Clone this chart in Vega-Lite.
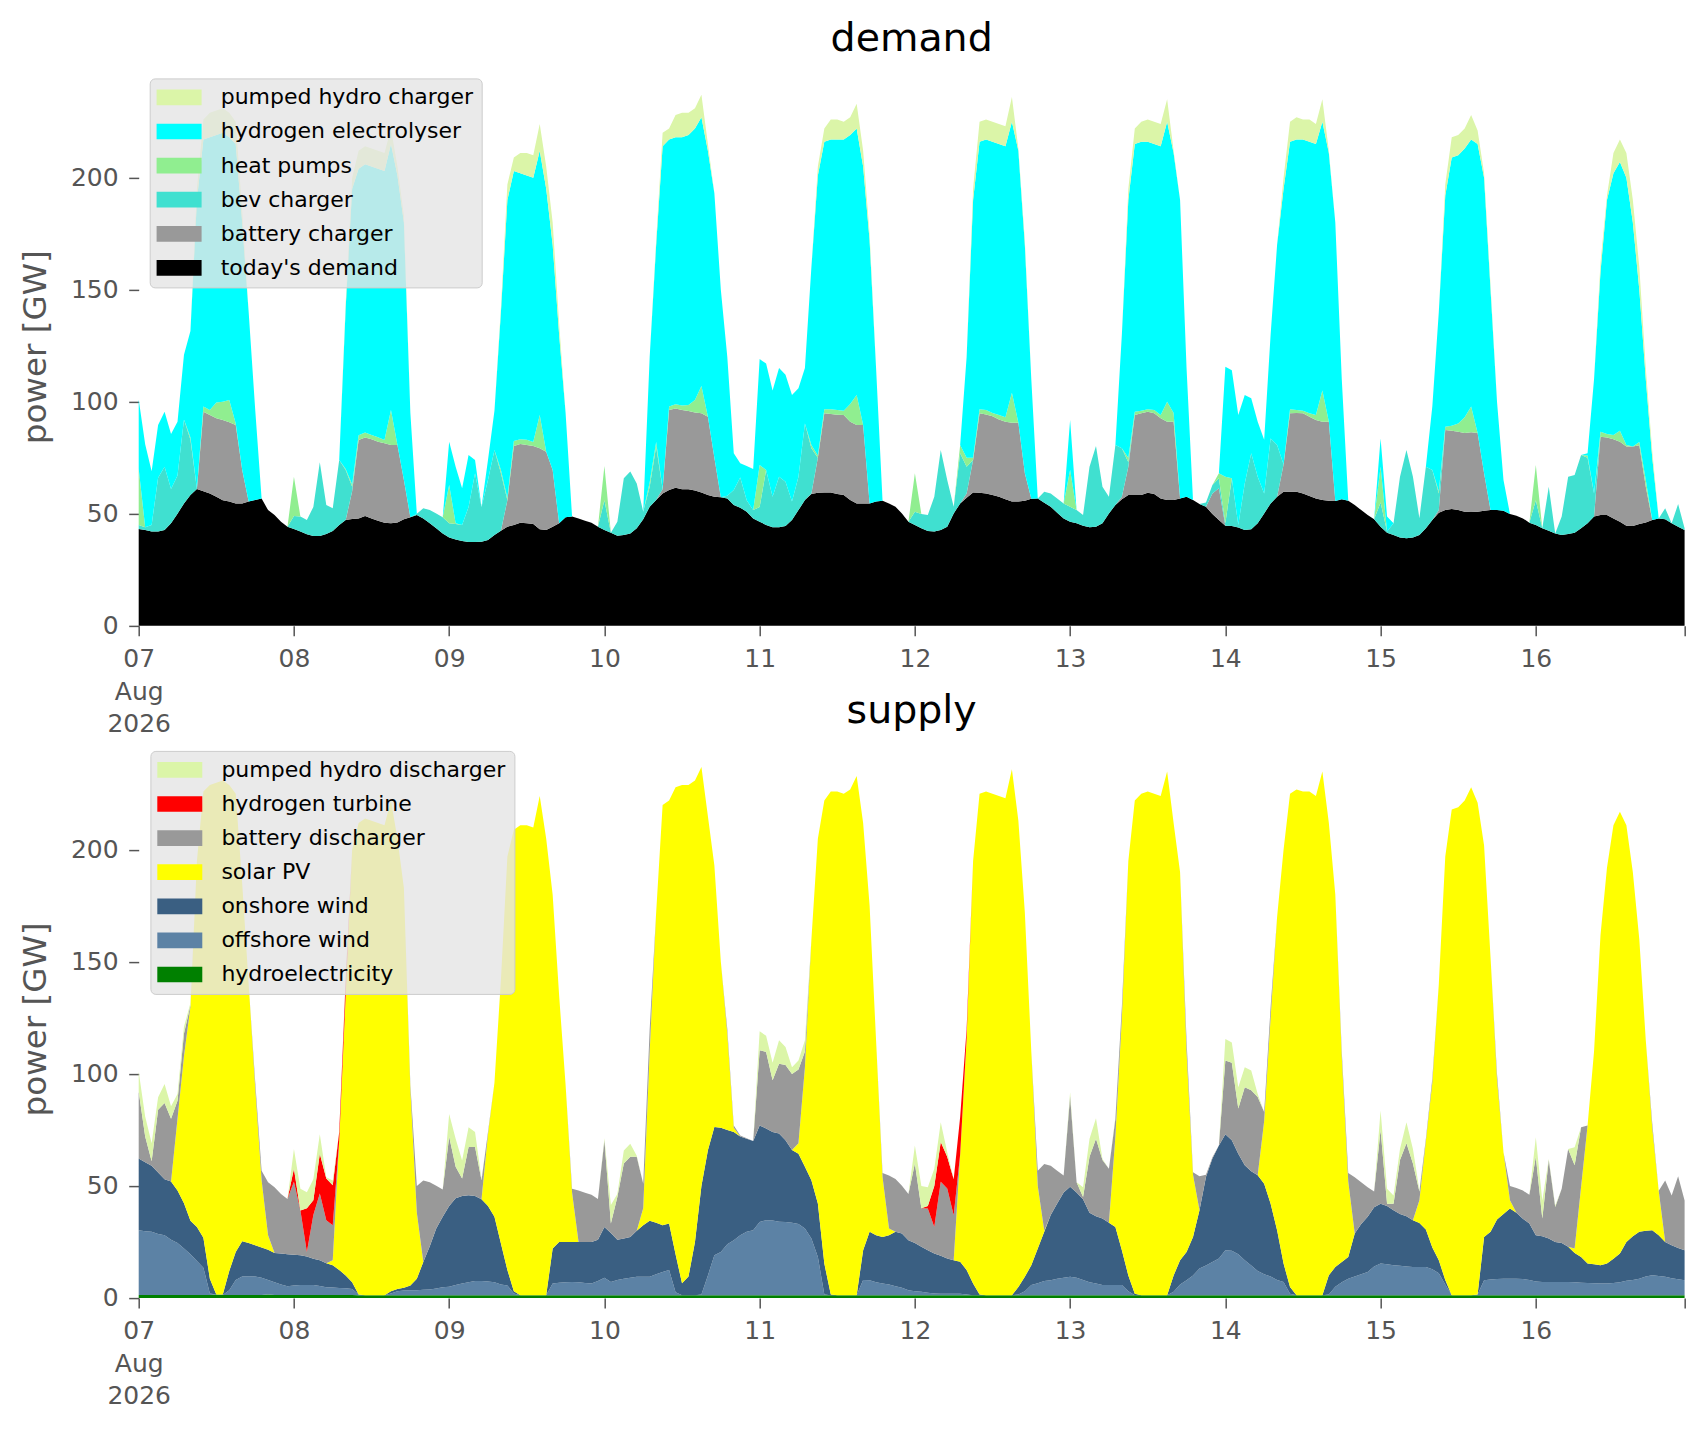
{
"$schema":"https://vega.github.io/schema/vega-lite/v6.json",
"background":"white",
"padding":{"left":18.7,"top":18.9,"right":10,"bottom":10},
"bounds":"flush",
"spacing":114.2,
"config":{
"font":"DejaVu Sans",
"view":{"stroke":null},
"axis":{"domain":false,"grid":false,"tickColor":"#555555","tickWidth":1.5,"tickSize":10,"labelColor":"#555555","labelFontSize":25,"labelFont":"DejaVu Sans","titleColor":"#555555","titleFontSize":32.6,"titleFont":"DejaVu Sans","titleFontWeight":"normal"},
"axisX":{"labelPadding":11,"labelFlush":false,"labelOverlap":false,"labelLineHeight":32.5},
"axisY":{"labelPadding":10.6,"titlePadding":18},
"title":{"fontSize":39.5,"fontWeight":"normal","color":"black","font":"DejaVu Sans","anchor":"middle","baseline":"alphabetic"},
"legend":{"orient":"none","fillColor":"rgba(229,229,229,0.8)","strokeColor":"#cccccc","strokeWidth":1,"cornerRadius":5,"padding":8,"labelFontSize":22,"labelFont":"DejaVu Sans","labelColor":"black","symbolType":"M-1.1,-0.714H2.99V0.714H-1.1Z","symbolSize":484,"symbolStrokeWidth":0,"symbolOpacity":1,"rowPadding":12.1,"labelOffset":41,"labelLimit":0}
},
"datasets":{
"dem":[
{"t":0,"d1":43.2,"d2":0,"d3":1.8,"d4":25,"d5":31,"d6":0},
{"t":1,"d1":42.7,"d2":0,"d3":1.3,"d4":0,"d5":37,"d6":0},
{"t":2,"d1":42,"d2":0,"d3":3,"d4":0,"d5":24,"d6":0},
{"t":3,"d1":42,"d2":0,"d3":24,"d4":0,"d5":23.6,"d6":0},
{"t":4,"d1":42.7,"d2":0,"d3":28.3,"d4":0,"d5":24.5,"d6":0},
{"t":5,"d1":45.7,"d2":0,"d3":15.3,"d4":0,"d5":24.6,"d6":0},
{"t":6,"d1":50,"d2":0,"d3":17,"d4":0,"d5":24,"d6":0},
{"t":7,"d1":54.6,"d2":0,"d3":37.4,"d4":0,"d5":29,"d6":0},
{"t":8,"d1":58.3,"d2":0,"d3":24.7,"d4":1,"d5":47.6,"d6":0},
{"t":9,"d1":61,"d2":0,"d3":0,"d4":0,"d5":129,"d6":5},
{"t":10,"d1":60,"d2":35.5,"d3":0,"d4":2.3,"d5":119.2,"d6":9},
{"t":11,"d1":59,"d2":35,"d3":0,"d4":2.3,"d5":121.7,"d6":11},
{"t":12,"d1":57.6,"d2":35,"d3":0,"d4":7,"d5":119.4,"d6":11},
{"t":13,"d1":56,"d2":35.8,"d3":0,"d4":8.2,"d5":120,"d6":11},
{"t":14,"d1":55.4,"d2":35.4,"d3":0,"d4":9.9,"d5":117.3,"d6":11},
{"t":15,"d1":54.6,"d2":35,"d3":0,"d4":0.7,"d5":124.7,"d6":10},
{"t":16,"d1":54.6,"d2":14.9,"d3":0,"d4":0,"d5":110.5,"d6":5},
{"t":17,"d1":55.4,"d2":0,"d3":0,"d4":0,"d5":84.6,"d6":0},
{"t":18,"d1":56.1,"d2":0,"d3":0,"d4":0,"d5":40.9,"d6":0},
{"t":19,"d1":56.8,"d2":0,"d3":0,"d4":0,"d5":0,"d6":0},
{"t":20,"d1":51.6,"d2":0,"d3":0,"d4":0,"d5":0,"d6":0},
{"t":21,"d1":49.4,"d2":0,"d3":0,"d4":0,"d5":0,"d6":0},
{"t":22,"d1":46.4,"d2":0,"d3":0,"d4":0,"d5":0,"d6":0},
{"t":23,"d1":44.2,"d2":0,"d3":0,"d4":0,"d5":0,"d6":0},
{"t":24,"d1":43.2,"d2":0,"d3":5.8,"d4":17.5,"d5":0,"d6":0},
{"t":25,"d1":42,"d2":0,"d3":6.7,"d4":0,"d5":0,"d6":0},
{"t":26,"d1":40.8,"d2":0,"d3":6.4,"d4":0,"d5":0,"d6":0},
{"t":27,"d1":40,"d2":0,"d3":13,"d4":0,"d5":0,"d6":0},
{"t":28,"d1":40,"d2":0,"d3":33,"d4":0,"d5":0,"d6":0},
{"t":29,"d1":40.9,"d2":0,"d3":13,"d4":0,"d5":0,"d6":0},
{"t":30,"d1":42.3,"d2":0,"d3":10.1,"d4":0,"d5":0,"d6":0},
{"t":31,"d1":45,"d2":0,"d3":29,"d4":0,"d5":0,"d6":0},
{"t":32,"d1":47.2,"d2":0,"d3":22.3,"d4":0.5,"d5":72,"d6":2},
{"t":33,"d1":47.6,"d2":12.4,"d3":2,"d4":1,"d5":132,"d6":5},
{"t":34,"d1":47.9,"d2":35,"d3":0,"d4":2.1,"d5":119,"d6":8},
{"t":35,"d1":49,"d2":35,"d3":0,"d4":2.2,"d5":119.8,"d6":8},
{"t":36,"d1":47.9,"d2":35.3,"d3":0,"d4":1.9,"d5":119.9,"d6":8},
{"t":37,"d1":46.9,"d2":35.2,"d3":0,"d4":2,"d5":119.9,"d6":8},
{"t":38,"d1":46,"d2":35.4,"d3":0,"d4":1.5,"d5":120.1,"d6":8},
{"t":39,"d1":45.7,"d2":35,"d3":0,"d4":15.6,"d5":118.7,"d6":7},
{"t":40,"d1":46.1,"d2":34.6,"d3":0,"d4":0,"d5":120.3,"d6":4},
{"t":41,"d1":47.5,"d2":17.5,"d3":0,"d4":0,"d5":115,"d6":3},
{"t":42,"d1":48.4,"d2":0,"d3":0,"d4":0,"d5":46.6,"d6":0},
{"t":43,"d1":49.4,"d2":0,"d3":0.6,"d4":0,"d5":0,"d6":0},
{"t":44,"d1":47.9,"d2":0,"d3":4.5,"d4":0,"d5":0,"d6":0},
{"t":45,"d1":45.7,"d2":0,"d3":5.9,"d4":0,"d5":0,"d6":0},
{"t":46,"d1":43.5,"d2":0,"d3":6.6,"d4":0,"d5":0,"d6":0},
{"t":47,"d1":41.2,"d2":0,"d3":7.2,"d4":0,"d5":0,"d6":0},
{"t":48,"d1":39.4,"d2":0,"d3":6.3,"d4":17.1,"d5":19.3,"d6":0},
{"t":49,"d1":38.5,"d2":0,"d3":6.9,"d4":0.3,"d5":25.3,"d6":0},
{"t":50,"d1":37.8,"d2":0,"d3":7.2,"d4":0,"d5":16.3,"d6":0},
{"t":51,"d1":37.4,"d2":0,"d3":15.6,"d4":0,"d5":23.2,"d6":0},
{"t":52,"d1":37.4,"d2":0,"d3":30.6,"d4":0,"d5":6,"d6":0},
{"t":53,"d1":37.5,"d2":0,"d3":15.5,"d4":0,"d5":0,"d6":0},
{"t":54,"d1":38.2,"d2":0,"d3":26.8,"d4":0,"d5":9,"d6":0},
{"t":55,"d1":40.5,"d2":0,"d3":37.9,"d4":0,"d5":17.6,"d6":0},
{"t":56,"d1":42.4,"d2":0,"d3":25.6,"d4":1.5,"d5":70.5,"d6":2},
{"t":57,"d1":44.2,"d2":11.8,"d3":0,"d4":1,"d5":133,"d6":7},
{"t":58,"d1":45,"d2":35.2,"d3":0,"d4":2.2,"d5":120.6,"d6":6},
{"t":59,"d1":46,"d2":35.1,"d3":0,"d4":2.1,"d5":118.8,"d6":9},
{"t":60,"d1":45.7,"d2":35,"d3":0,"d4":2.3,"d5":118,"d6":10},
{"t":61,"d1":45.4,"d2":34.8,"d3":0,"d4":1.8,"d5":118,"d6":10},
{"t":62,"d1":43,"d2":36.2,"d3":0,"d4":14.8,"d5":118,"d6":12},
{"t":63,"d1":42.7,"d2":35,"d3":0,"d4":0,"d5":117.3,"d6":10},
{"t":64,"d1":44.2,"d2":25.3,"d3":0,"d4":0,"d5":100.5,"d6":10},
{"t":65,"d1":45.7,"d2":0,"d3":0,"d4":0,"d5":84.3,"d6":5},
{"t":66,"d1":48.4,"d2":0,"d3":0,"d4":0,"d5":46.6,"d6":0},
{"t":67,"d1":48.7,"d2":0,"d3":0,"d4":0,"d5":0,"d6":0},
{"t":68,"d1":47.9,"d2":0,"d3":0,"d4":0,"d5":0,"d6":0},
{"t":69,"d1":46.9,"d2":0,"d3":0,"d4":0,"d5":0,"d6":0},
{"t":70,"d1":46,"d2":0,"d3":0,"d4":0,"d5":0,"d6":0},
{"t":71,"d1":44.2,"d2":0,"d3":0,"d4":0,"d5":0,"d6":0},
{"t":72,"d1":42.7,"d2":0,"d3":13.3,"d4":15.3,"d5":0,"d6":0},
{"t":73,"d1":41.5,"d2":0,"d3":0,"d4":0,"d5":0,"d6":0},
{"t":74,"d1":40.2,"d2":0,"d3":6.2,"d4":0,"d5":0,"d6":0},
{"t":75,"d1":40.5,"d2":0,"d3":25.3,"d4":0,"d5":0,"d6":0},
{"t":76,"d1":41.2,"d2":0,"d3":27.6,"d4":0,"d5":0,"d6":0},
{"t":77,"d1":43.5,"d2":0,"d3":20,"d4":0,"d5":0,"d6":0},
{"t":78,"d1":47.5,"d2":0,"d3":3.4,"d4":0,"d5":0,"d6":0},
{"t":79,"d1":53.1,"d2":0,"d3":8.9,"d4":2,"d5":56,"d6":0},
{"t":80,"d1":56.1,"d2":0,"d3":23.9,"d4":2,"d5":88,"d6":2},
{"t":81,"d1":59,"d2":2,"d3":0,"d4":0,"d5":153,"d6":6},
{"t":82,"d1":60.6,"d2":35.7,"d3":0,"d4":1.5,"d5":119.2,"d6":5},
{"t":83,"d1":61.6,"d2":35.4,"d3":0,"d4":1.8,"d5":119.2,"d6":10},
{"t":84,"d1":60.9,"d2":35.4,"d3":0,"d4":2,"d5":119.7,"d6":11},
{"t":85,"d1":60.9,"d2":34.9,"d3":0,"d4":2.7,"d5":120.5,"d6":10},
{"t":86,"d1":60.3,"d2":34.9,"d3":0,"d4":5.5,"d5":121.3,"d6":9},
{"t":87,"d1":59.5,"d2":35.3,"d3":0,"d4":12.2,"d5":120,"d6":10},
{"t":88,"d1":58.3,"d2":35,"d3":0,"d4":0,"d5":118.7,"d6":3},
{"t":89,"d1":57.6,"d2":17.4,"d3":0,"d4":0,"d5":118,"d6":0},
{"t":90,"d1":57.3,"d2":0,"d3":0,"d4":0,"d5":92.7,"d6":0},
{"t":91,"d1":56.8,"d2":0,"d3":1.2,"d4":0,"d5":62,"d6":0},
{"t":92,"d1":53.9,"d2":0,"d3":6.7,"d4":0,"d5":16.4,"d6":0},
{"t":93,"d1":52.7,"d2":0,"d3":13.5,"d4":0,"d5":6.3,"d6":0},
{"t":94,"d1":50.9,"d2":0,"d3":5.1,"d4":0,"d5":15.3,"d6":0},
{"t":95,"d1":47.9,"d2":0,"d3":3.7,"d4":0,"d5":18.4,"d6":0},
{"t":96,"d1":46.4,"d2":0,"d3":6.6,"d4":18.7,"d5":47.3,"d6":0},
{"t":97,"d1":45,"d2":0,"d3":24.5,"d4":0,"d5":47.5,"d6":0},
{"t":98,"d1":43.9,"d2":0,"d3":13.7,"d4":0,"d5":47.4,"d6":0},
{"t":99,"d1":43.9,"d2":0,"d3":22.6,"d4":0,"d5":48.5,"d6":0},
{"t":100,"d1":44.5,"d2":0,"d3":19.8,"d4":0,"d5":47.7,"d6":0},
{"t":101,"d1":47.2,"d2":0,"d3":8.2,"d4":0,"d5":47.6,"d6":0},
{"t":102,"d1":51.6,"d2":0,"d3":14.9,"d4":0,"d5":39.5,"d6":0},
{"t":103,"d1":56.1,"d2":0,"d3":34.2,"d4":0,"d5":24.7,"d6":0},
{"t":104,"d1":58.8,"d2":0.2,"d3":20.2,"d4":1.5,"d5":79.3,"d6":0},
{"t":105,"d1":59.4,"d2":15.6,"d3":0,"d4":1,"d5":125,"d6":4},
{"t":106,"d1":59.5,"d2":35.3,"d3":0,"d4":1.8,"d5":119.4,"d6":6},
{"t":107,"d1":59.5,"d2":35,"d3":0,"d4":2.1,"d5":120.4,"d6":9},
{"t":108,"d1":58.8,"d2":35.4,"d3":0,"d4":2.1,"d5":120.7,"d6":9},
{"t":109,"d1":58.3,"d2":35.7,"d3":0,"d4":2,"d5":121,"d6":8},
{"t":110,"d1":56.1,"d2":34.9,"d3":0,"d4":8,"d5":120,"d6":8},
{"t":111,"d1":54.6,"d2":35,"d3":0,"d4":13.4,"d5":119,"d6":11},
{"t":112,"d1":54.6,"d2":35,"d3":0,"d4":0,"d5":115.4,"d6":7},
{"t":113,"d1":54.6,"d2":0,"d3":0,"d4":0,"d5":117.4,"d6":3},
{"t":114,"d1":55.4,"d2":0,"d3":0,"d4":0,"d5":59.6,"d6":0},
{"t":115,"d1":55.8,"d2":0,"d3":0,"d4":0,"d5":0,"d6":0},
{"t":116,"d1":54.6,"d2":0,"d3":0,"d4":0,"d5":0,"d6":0},
{"t":117,"d1":53.1,"d2":0,"d3":0,"d4":0,"d5":0,"d6":0},
{"t":118,"d1":50.1,"d2":0,"d3":0,"d4":0,"d5":0,"d6":0},
{"t":119,"d1":46.4,"d2":0,"d3":0,"d4":0,"d5":0,"d6":0},
{"t":120,"d1":45,"d2":0,"d3":5.9,"d4":17.1,"d5":0,"d6":0},
{"t":121,"d1":43.5,"d2":0,"d3":6.4,"d4":0,"d5":0,"d6":0},
{"t":122,"d1":42.3,"d2":0,"d3":7.1,"d4":0,"d5":0,"d6":0},
{"t":123,"d1":42,"d2":0,"d3":15.6,"d4":0,"d5":0,"d6":0},
{"t":124,"d1":42.7,"d2":0,"d3":35.7,"d4":0,"d5":0,"d6":0},
{"t":125,"d1":44.2,"d2":0,"d3":20.8,"d4":0,"d5":0,"d6":0},
{"t":126,"d1":50.1,"d2":0,"d3":3,"d4":0,"d5":0,"d6":0},
{"t":127,"d1":54.6,"d2":0,"d3":22.4,"d4":3.7,"d5":0,"d6":0},
{"t":128,"d1":57.1,"d2":1.9,"d3":12,"d4":4,"d5":45,"d6":0},
{"t":129,"d1":59.5,"d2":14.5,"d3":0,"d4":1,"d5":115,"d6":5},
{"t":130,"d1":59.4,"d2":35.4,"d3":0,"d4":1.8,"d5":119.4,"d6":9},
{"t":131,"d1":59,"d2":35.3,"d3":0,"d4":2,"d5":120.7,"d6":9},
{"t":132,"d1":58.3,"d2":35.2,"d3":0,"d4":1.5,"d5":121,"d6":9},
{"t":133,"d1":57.6,"d2":34.4,"d3":0,"d4":2,"d5":121,"d6":9},
{"t":134,"d1":56.4,"d2":34.6,"d3":0,"d4":2,"d5":121,"d6":9},
{"t":135,"d1":55.4,"d2":35.2,"d3":0,"d4":13.4,"d5":121,"d6":11},
{"t":136,"d1":55.4,"d2":35.2,"d3":0,"d4":0,"d5":121.4,"d6":1},
{"t":137,"d1":55.8,"d2":12.2,"d3":0,"d4":0,"d5":102,"d6":2},
{"t":138,"d1":56.7,"d2":0,"d3":0,"d4":0,"d5":53.3,"d6":0},
{"t":139,"d1":56.8,"d2":0,"d3":0,"d4":0,"d5":0,"d6":0},
{"t":140,"d1":54.9,"d2":0,"d3":4.9,"d4":0,"d5":0,"d6":0},
{"t":141,"d1":53.1,"d2":0,"d3":5.9,"d4":0,"d5":0,"d6":0},
{"t":142,"d1":50.4,"d2":0,"d3":6.4,"d4":0,"d5":0,"d6":0},
{"t":143,"d1":47.9,"d2":0,"d3":6.7,"d4":0,"d5":0,"d6":0},
{"t":144,"d1":46.4,"d2":0,"d3":6.7,"d4":16.4,"d5":22.3,"d6":0},
{"t":145,"d1":45.7,"d2":0,"d3":5.9,"d4":0,"d5":0,"d6":0},
{"t":146,"d1":44.6,"d2":0,"d3":4.8,"d4":0,"d5":0,"d6":0},
{"t":147,"d1":43.9,"d2":0,"d3":27.1,"d4":0,"d5":0,"d6":0},
{"t":148,"d1":44.2,"d2":0,"d3":36,"d4":0,"d5":0,"d6":0},
{"t":149,"d1":45.7,"d2":0,"d3":16.3,"d4":0,"d5":0,"d6":0},
{"t":150,"d1":50.1,"d2":0,"d3":7.5,"d4":0,"d5":0,"d6":0},
{"t":151,"d1":53.9,"d2":0,"d3":26.8,"d4":0,"d5":0,"d6":0},
{"t":152,"d1":56.4,"d2":1.2,"d3":21.6,"d4":0,"d5":50.8,"d6":0},
{"t":153,"d1":58.3,"d2":12.7,"d3":2,"d4":2,"d5":115,"d6":5},
{"t":154,"d1":58.3,"d2":35.7,"d3":0,"d4":1.5,"d5":119.5,"d6":7},
{"t":155,"d1":58.3,"d2":36.5,"d3":0,"d4":1.2,"d5":120,"d6":9},
{"t":156,"d1":59.4,"d2":36.1,"d3":0,"d4":1.1,"d5":119.4,"d6":10},
{"t":157,"d1":58.8,"d2":36,"d3":0,"d4":1.5,"d5":118.7,"d6":10},
{"t":158,"d1":56.8,"d2":35.8,"d3":0,"d4":1.4,"d5":120,"d6":10},
{"t":159,"d1":56.1,"d2":34.9,"d3":0,"d4":9,"d5":125,"d6":10},
{"t":160,"d1":56.1,"d2":34.9,"d3":0,"d4":4,"d5":116,"d6":1},
{"t":161,"d1":56.8,"d2":0,"d3":0,"d4":0,"d5":133.2,"d6":0},
{"t":162,"d1":57.6,"d2":0,"d3":0,"d4":0,"d5":57.4,"d6":0},
{"t":163,"d1":56.1,"d2":0,"d3":0,"d4":0,"d5":0,"d6":0},
{"t":164,"d1":54.3,"d2":0,"d3":0,"d4":0,"d5":0,"d6":0},
{"t":165,"d1":53.1,"d2":0,"d3":1.9,"d4":0,"d5":0,"d6":0},
{"t":166,"d1":49.9,"d2":9.1,"d3":3.8,"d4":0,"d5":0,"d6":0},
{"t":167,"d1":47.2,"d2":14.1,"d3":4.5,"d4":2.2,"d5":0,"d6":0},
{"t":168,"d1":44.6,"d2":0,"d3":1.1,"d4":20.8,"d5":49.1,"d6":0},
{"t":169,"d1":44.5,"d2":0,"d3":21.3,"d4":0,"d5":48.2,"d6":0},
{"t":170,"d1":43.8,"d2":0,"d3":1.2,"d4":0,"d5":49,"d6":0},
{"t":171,"d1":42.7,"d2":0,"d3":20.8,"d4":0,"d5":39.5,"d6":0},
{"t":172,"d1":43,"d2":0,"d3":34,"d4":0,"d5":24.5,"d6":0},
{"t":173,"d1":45.7,"d2":0,"d3":20.8,"d4":0,"d5":24.5,"d6":0},
{"t":174,"d1":50.1,"d2":0,"d3":8.9,"d4":0,"d5":24,"d6":0},
{"t":175,"d1":54.6,"d2":0,"d3":29,"d4":0,"d5":46.4,"d6":0},
{"t":176,"d1":57.6,"d2":0,"d3":23.1,"d4":0,"d5":89.3,"d6":0},
{"t":177,"d1":59.8,"d2":12.2,"d3":0,"d4":0,"d5":123,"d6":5},
{"t":178,"d1":59.8,"d2":35,"d3":0,"d4":1.8,"d5":119.4,"d6":9},
{"t":179,"d1":59.8,"d2":35.2,"d3":0,"d4":1.3,"d5":120.7,"d6":10},
{"t":180,"d1":59,"d2":35.8,"d3":0,"d4":1.2,"d5":121,"d6":9},
{"t":181,"d1":57.9,"d2":35.4,"d3":0,"d4":1.5,"d5":121.2,"d6":10},
{"t":182,"d1":56.8,"d2":35,"d3":0,"d4":2.2,"d5":121,"d6":9},
{"t":183,"d1":56.1,"d2":34.9,"d3":0,"d4":14,"d5":120,"d6":10},
{"t":184,"d1":55.8,"d2":35.2,"d3":0,"d4":0,"d5":120,"d6":1},
{"t":185,"d1":55.7,"d2":0,"d3":0,"d4":0,"d5":124.3,"d6":0},
{"t":186,"d1":56.4,"d2":0,"d3":0,"d4":0,"d5":53.6,"d6":0},
{"t":187,"d1":55.8,"d2":0,"d3":0,"d4":0,"d5":0,"d6":0},
{"t":188,"d1":53.9,"d2":0,"d3":0,"d4":0,"d5":0,"d6":0},
{"t":189,"d1":51.6,"d2":0,"d3":0,"d4":0,"d5":0,"d6":0},
{"t":190,"d1":49.4,"d2":0,"d3":0,"d4":0,"d5":0,"d6":0},
{"t":191,"d1":47.5,"d2":0,"d3":0,"d4":0,"d5":0,"d6":0},
{"t":192,"d1":44.2,"d2":0,"d3":10.8,"d4":16,"d5":12.6,"d6":0},
{"t":193,"d1":41.5,"d2":0,"d3":0.5,"d4":0,"d5":6.7,"d6":0},
{"t":194,"d1":40.5,"d2":0,"d3":5.2,"d4":0,"d5":0,"d6":0},
{"t":195,"d1":39.4,"d2":0,"d3":27.1,"d4":0,"d5":0,"d6":0},
{"t":196,"d1":39,"d2":0,"d3":39.4,"d4":0,"d5":0,"d6":0},
{"t":197,"d1":39.4,"d2":0,"d3":27.1,"d4":0,"d5":0,"d6":0},
{"t":198,"d1":40.5,"d2":0,"d3":7.5,"d4":0,"d5":0,"d6":0},
{"t":199,"d1":43.5,"d2":0,"d3":27.5,"d4":0,"d5":0,"d6":0},
{"t":200,"d1":47.2,"d2":0,"d3":22.3,"d4":0,"d5":28.5,"d6":0},
{"t":201,"d1":50.4,"d2":1.2,"d3":7.4,"d4":1,"d5":80,"d6":0},
{"t":202,"d1":51.6,"d2":35.8,"d3":0,"d4":1.4,"d5":103.2,"d6":5},
{"t":203,"d1":52.1,"d2":34.9,"d3":0,"d4":2.3,"d5":119.7,"d6":9},
{"t":204,"d1":51.6,"d2":35,"d3":0,"d4":3.7,"d5":119.7,"d6":9},
{"t":205,"d1":50.9,"d2":35.1,"d3":0,"d4":7,"d5":120,"d6":9},
{"t":206,"d1":50.7,"d2":35.6,"d3":0,"d4":11.5,"d5":119.2,"d6":11},
{"t":207,"d1":50.9,"d2":35.1,"d3":0,"d4":0,"d5":129,"d6":6},
{"t":208,"d1":51.3,"d2":16.7,"d3":0,"d4":0,"d5":132,"d6":2},
{"t":209,"d1":51.6,"d2":0,"d3":0,"d4":0,"d5":98.4,"d6":2},
{"t":210,"d1":51.6,"d2":0,"d3":0,"d4":0,"d5":48.4,"d6":0},
{"t":211,"d1":51.3,"d2":0,"d3":0,"d4":0,"d5":13.7,"d6":0},
{"t":212,"d1":49.9,"d2":0,"d3":0,"d4":0,"d5":0,"d6":0},
{"t":213,"d1":49.1,"d2":0,"d3":0,"d4":0,"d5":0,"d6":0},
{"t":214,"d1":47.9,"d2":0,"d3":0,"d4":0,"d5":0,"d6":0},
{"t":215,"d1":46,"d2":0,"d3":0,"d4":0,"d5":0,"d6":0},
{"t":216,"d1":44.9,"d2":0,"d3":11.1,"d4":15.7,"d5":0,"d6":0},
{"t":217,"d1":43.5,"d2":0,"d3":0,"d4":0,"d5":0,"d6":0},
{"t":218,"d1":42.4,"d2":0,"d3":19.6,"d4":0,"d5":0,"d6":0},
{"t":219,"d1":41.2,"d2":0,"d3":0,"d4":0,"d5":0,"d6":0},
{"t":220,"d1":40.5,"d2":0,"d3":8.2,"d4":0,"d5":0,"d6":0},
{"t":221,"d1":40.9,"d2":0,"d3":25.6,"d4":0,"d5":0,"d6":0},
{"t":222,"d1":41.5,"d2":0,"d3":25.8,"d4":0,"d5":0,"d6":0},
{"t":223,"d1":43.5,"d2":0,"d3":32.7,"d4":0,"d5":0,"d6":0},
{"t":224,"d1":45.7,"d2":0,"d3":29.3,"d4":1,"d5":1,"d6":0},
{"t":225,"d1":48.7,"d2":0,"d3":10.3,"d4":0,"d5":51,"d6":0},
{"t":226,"d1":49.4,"d2":35,"d3":0,"d4":2.2,"d5":71.4,"d6":4},
{"t":227,"d1":49.4,"d2":34.6,"d3":0,"d4":1.6,"d5":104.4,"d6":2},
{"t":228,"d1":47.9,"d2":35.3,"d3":0,"d4":1.9,"d5":116.9,"d6":9},
{"t":229,"d1":46.4,"d2":35.7,"d3":0,"d4":4.9,"d5":120,"d6":10},
{"t":230,"d1":44.6,"d2":35.4,"d3":0,"d4":0.7,"d5":119.3,"d6":11},
{"t":231,"d1":44.5,"d2":35.5,"d3":0,"d4":0,"d5":100,"d6":10},
{"t":232,"d1":45.4,"d2":35.1,"d3":0,"d4":1.5,"d5":68,"d6":10},
{"t":233,"d1":46.1,"d2":15.9,"d3":0,"d4":3,"d5":45,"d6":5},
{"t":234,"d1":47.2,"d2":0,"d3":0,"d4":0,"d5":27.8,"d6":3},
{"t":235,"d1":47.8,"d2":0,"d3":0,"d4":0,"d5":0,"d6":0},
{"t":236,"d1":47.5,"d2":0,"d3":4.9,"d4":0,"d5":0,"d6":0},
{"t":237,"d1":45.7,"d2":0,"d3":0,"d4":0,"d5":0,"d6":0},
{"t":238,"d1":44.2,"d2":0,"d3":10.1,"d4":0,"d5":0,"d6":0},
{"t":239,"d1":42.7,"d2":0,"d3":0.8,"d4":0,"d5":0,"d6":0}
],
"sup":[
{"t":0,"s1":1.3,"s2":28.9,"s3":32,"s4":0,"s5":29.8,"s6":0,"s7":9},
{"t":1,"s1":1.3,"s2":28.5,"s3":30.7,"s4":0,"s5":11.5,"s6":0,"s7":9},
{"t":2,"s1":1.3,"s2":28.2,"s3":29.5,"s4":0,"s5":2,"s6":0,"s7":8},
{"t":3,"s1":1.3,"s2":27.2,"s3":27.5,"s4":0,"s5":28,"s6":0,"s7":5.6},
{"t":4,"s1":1.3,"s2":26.7,"s3":25,"s4":0,"s5":34,"s6":0,"s7":8.5},
{"t":5,"s1":1.3,"s2":24.7,"s3":26,"s4":0,"s5":28,"s6":0,"s7":5.6},
{"t":6,"s1":1.3,"s2":23.2,"s3":23.4,"s4":32.1,"s5":8,"s6":0,"s7":3},
{"t":7,"s1":1.3,"s2":20.7,"s3":20.3,"s4":65.7,"s5":10,"s6":0,"s7":3},
{"t":8,"s1":1.3,"s2":18.2,"s3":14.9,"s4":95.6,"s5":0.6,"s6":0,"s7":1},
{"t":9,"s1":1.3,"s2":15.2,"s3":15.2,"s4":163.3,"s5":0,"s6":0,"s7":0},
{"t":10,"s1":1.3,"s2":12.2,"s3":13.4,"s4":199.1,"s5":0,"s6":0,"s7":0},
{"t":11,"s1":1.3,"s2":0.7,"s3":6.6,"s4":220.4,"s5":0,"s6":0,"s7":0},
{"t":12,"s1":1.5,"s2":0,"s3":0,"s4":228.5,"s5":0,"s6":0,"s7":0},
{"t":13,"s1":1.3,"s2":0,"s3":0.2,"s4":229.5,"s5":0,"s6":0,"s7":0},
{"t":14,"s1":1.3,"s2":2.1,"s3":8.6,"s4":217,"s5":0,"s6":0,"s7":0},
{"t":15,"s1":1.3,"s2":6.7,"s3":12.5,"s4":204.5,"s5":0,"s6":0,"s7":0},
{"t":16,"s1":1.3,"s2":8.2,"s3":15.8,"s4":159.7,"s5":0,"s6":0,"s7":0},
{"t":17,"s1":1.3,"s2":8.4,"s3":14.8,"s4":115.5,"s5":0,"s6":0,"s7":0},
{"t":18,"s1":1.3,"s2":8.3,"s3":13.9,"s4":71,"s5":2.5,"s6":0,"s7":0},
{"t":19,"s1":1.3,"s2":7.7,"s3":13.5,"s4":30,"s5":4.3,"s6":0,"s7":0},
{"t":20,"s1":1.5,"s2":6.5,"s3":13.5,"s4":6.5,"s5":23.6,"s6":0,"s7":0},
{"t":21,"s1":1.3,"s2":5.7,"s3":13,"s4":0,"s5":29.4,"s6":0,"s7":0},
{"t":22,"s1":1.3,"s2":4.7,"s3":13.8,"s4":0,"s5":26.6,"s6":0,"s7":0},
{"t":23,"s1":1.3,"s2":3.9,"s3":14.3,"s4":0,"s5":24.7,"s6":0,"s7":0},
{"t":24,"s1":1.3,"s2":4.2,"s3":13.8,"s4":0,"s5":32.5,"s6":5.9,"s7":8.8},
{"t":25,"s1":1.3,"s2":4.4,"s3":13.3,"s4":0,"s5":20,"s6":0,"s7":9.7},
{"t":26,"s1":1.3,"s2":4.4,"s3":12.8,"s4":0,"s5":2,"s6":19.5,"s7":7.2},
{"t":27,"s1":1.3,"s2":4.4,"s3":11.8,"s4":0,"s5":19.5,"s6":6.6,"s7":9.4},
{"t":28,"s1":1.3,"s2":4,"s3":11.5,"s4":0,"s5":29.8,"s6":17.8,"s7":8.6},
{"t":29,"s1":1.3,"s2":3.5,"s3":10.7,"s4":0,"s5":19.2,"s6":18.6,"s7":0.6},
{"t":30,"s1":1.3,"s2":3.3,"s3":10,"s4":2.2,"s5":15.6,"s6":17.9,"s7":2.1},
{"t":31,"s1":1.3,"s2":3.1,"s3":8.1,"s4":57.5,"s5":0,"s6":4,"s7":0},
{"t":32,"s1":1.3,"s2":3,"s3":5.7,"s4":125,"s5":0,"s6":7,"s7":2},
{"t":33,"s1":1.3,"s2":2.7,"s3":3,"s4":193,"s5":0,"s6":0,"s7":0},
{"t":34,"s1":1.2,"s2":0.3,"s3":0,"s4":210.5,"s5":0,"s6":0,"s7":0},
{"t":35,"s1":1.2,"s2":0,"s3":0,"s4":212.8,"s5":0,"s6":0,"s7":0},
{"t":36,"s1":1.2,"s2":0,"s3":0,"s4":211.8,"s5":0,"s6":0,"s7":0},
{"t":37,"s1":1.2,"s2":0,"s3":0,"s4":210.8,"s5":0,"s6":0,"s7":0},
{"t":38,"s1":1.2,"s2":0,"s3":0,"s4":209.8,"s5":0,"s6":0,"s7":0},
{"t":39,"s1":1.2,"s2":0.8,"s3":1,"s4":219,"s5":0,"s6":0,"s7":0},
{"t":40,"s1":1.2,"s2":1.8,"s3":1,"s4":201,"s5":0,"s6":0,"s7":0},
{"t":41,"s1":1.2,"s2":2.1,"s3":1.2,"s4":178.5,"s5":0,"s6":0,"s7":0},
{"t":42,"s1":1.2,"s2":2.2,"s3":2.1,"s4":87.5,"s5":2,"s6":0,"s7":0},
{"t":43,"s1":1.2,"s2":2.2,"s3":5.2,"s4":29.4,"s5":12,"s6":0,"s7":0},
{"t":44,"s1":1.2,"s2":2.4,"s3":12.4,"s4":0,"s5":36.4,"s6":0,"s7":0},
{"t":45,"s1":1.2,"s2":2.6,"s3":19.2,"s4":0,"s5":28.6,"s6":0,"s7":0},
{"t":46,"s1":1.2,"s2":3,"s3":26.8,"s4":0,"s5":19.1,"s6":0,"s7":0},
{"t":47,"s1":1.2,"s2":3.6,"s3":31.4,"s4":0,"s5":12.2,"s6":0,"s7":0},
{"t":48,"s1":1.2,"s2":3.8,"s3":36,"s4":0,"s5":30.9,"s6":0,"s7":10.2},
{"t":49,"s1":1.2,"s2":4.6,"s3":38.7,"s4":0,"s5":14,"s6":0,"s7":12.5},
{"t":50,"s1":1.2,"s2":5.2,"s3":39.1,"s4":0,"s5":7.8,"s6":0,"s7":8},
{"t":51,"s1":1.2,"s2":5.8,"s3":38.8,"s4":0,"s5":21.6,"s6":0,"s7":8.8},
{"t":52,"s1":1.2,"s2":6.3,"s3":38,"s4":0,"s5":21.9,"s6":0,"s7":6.6},
{"t":53,"s1":1.2,"s2":6.3,"s3":36.5,"s4":0,"s5":8.5,"s6":0,"s7":0.5},
{"t":54,"s1":1.2,"s2":6.1,"s3":33.7,"s4":32,"s5":1,"s6":0,"s7":0},
{"t":55,"s1":1.2,"s2":5.8,"s3":29.2,"s4":59.8,"s5":0,"s6":0,"s7":0},
{"t":56,"s1":1.2,"s2":4.8,"s3":18.3,"s4":117.7,"s5":0,"s6":0,"s7":0},
{"t":57,"s1":1.2,"s2":4.3,"s3":6.9,"s4":184.6,"s5":0,"s6":0,"s7":0},
{"t":58,"s1":1.2,"s2":0.8,"s3":1,"s4":206,"s5":0,"s6":0,"s7":0},
{"t":59,"s1":1.2,"s2":0,"s3":0,"s4":209.8,"s5":0,"s6":0,"s7":0},
{"t":60,"s1":1.2,"s2":0,"s3":0,"s4":209.8,"s5":0,"s6":0,"s7":0},
{"t":61,"s1":1.2,"s2":0,"s3":0,"s4":208.8,"s5":0,"s6":0,"s7":0},
{"t":62,"s1":1.2,"s2":0,"s3":0,"s4":222.8,"s5":0,"s6":0,"s7":0},
{"t":63,"s1":1.2,"s2":0,"s3":0,"s4":203.8,"s5":0,"s6":0,"s7":0},
{"t":64,"s1":1.2,"s2":5.2,"s3":15.6,"s4":158,"s5":0,"s6":0,"s7":0},
{"t":65,"s1":1.2,"s2":5.6,"s3":18.2,"s4":110,"s5":0,"s6":0,"s7":0},
{"t":66,"s1":1.2,"s2":5.8,"s3":18,"s4":70,"s5":0,"s6":0,"s7":0},
{"t":67,"s1":1.2,"s2":5.9,"s3":17.9,"s4":22,"s5":1.7,"s6":0,"s7":0},
{"t":68,"s1":1.2,"s2":5.8,"s3":18,"s4":0,"s5":22.9,"s6":0,"s7":0},
{"t":69,"s1":1.2,"s2":5.4,"s3":18.4,"s4":0,"s5":21.9,"s6":0,"s7":0},
{"t":70,"s1":1.2,"s2":5.2,"s3":18.6,"s4":0,"s5":21,"s6":0,"s7":0},
{"t":71,"s1":1.2,"s2":6.3,"s3":18.5,"s4":0,"s5":18.2,"s6":0,"s7":0},
{"t":72,"s1":1.2,"s2":7.8,"s3":22.7,"s4":0,"s5":38.7,"s6":0,"s7":0.9},
{"t":73,"s1":1.2,"s2":5.9,"s3":21.9,"s4":0,"s5":4.2,"s6":0,"s7":8.3},
{"t":74,"s1":1.2,"s2":6.8,"s3":18,"s4":0,"s5":19,"s6":0,"s7":1.4},
{"t":75,"s1":1.2,"s2":7.4,"s3":17.9,"s4":0,"s5":33.5,"s6":0,"s7":5.8},
{"t":76,"s1":1.2,"s2":7.8,"s3":18.2,"s4":0,"s5":35.8,"s6":0,"s7":5.8},
{"t":77,"s1":1.2,"s2":8.2,"s3":20.6,"s4":0,"s5":33,"s6":0,"s7":0.5},
{"t":78,"s1":1.2,"s2":8.2,"s3":23,"s4":7.6,"s5":10.9,"s6":0,"s7":0},
{"t":79,"s1":1.2,"s2":8.2,"s3":25,"s4":75.6,"s5":10,"s6":0,"s7":0},
{"t":80,"s1":1.2,"s2":9.3,"s3":23,"s4":138.5,"s5":0,"s6":0,"s7":0},
{"t":81,"s1":1.2,"s2":10.4,"s3":20.8,"s4":187.6,"s5":0,"s6":0,"s7":0},
{"t":82,"s1":1.2,"s2":11.2,"s3":20.8,"s4":188.8,"s5":0,"s6":0,"s7":0},
{"t":83,"s1":1.2,"s2":1.3,"s3":17,"s4":208.5,"s5":0,"s6":0,"s7":0},
{"t":84,"s1":1.2,"s2":0,"s3":5.3,"s4":222.5,"s5":0,"s6":0,"s7":0},
{"t":85,"s1":1.2,"s2":0,"s3":8.3,"s4":219.5,"s5":0,"s6":0,"s7":0},
{"t":86,"s1":1.2,"s2":0,"s3":23.8,"s4":206,"s5":0,"s6":0,"s7":0},
{"t":87,"s1":1.2,"s2":0.3,"s3":48.5,"s4":187,"s5":0,"s6":0,"s7":0},
{"t":88,"s1":1.2,"s2":8.8,"s3":55.9,"s4":149.1,"s5":0,"s6":0,"s7":0},
{"t":89,"s1":1.2,"s2":17.8,"s3":57.3,"s4":116.7,"s5":0,"s6":0,"s7":0},
{"t":90,"s1":1.2,"s2":19.3,"s3":55.5,"s4":74,"s5":0,"s6":0,"s7":0},
{"t":91,"s1":1.2,"s2":22.8,"s3":51,"s4":43,"s5":2,"s6":0,"s7":0},
{"t":92,"s1":1.2,"s2":24.5,"s3":48.3,"s4":2,"s5":1,"s6":0,"s7":0},
{"t":93,"s1":1.2,"s2":26.8,"s3":44,"s4":0,"s5":0.5,"s6":0,"s7":0},
{"t":94,"s1":1.2,"s2":28.3,"s3":41.5,"s4":0,"s5":0.3,"s6":0,"s7":0},
{"t":95,"s1":1.2,"s2":29,"s3":39.8,"s4":0,"s5":0,"s6":0,"s7":0},
{"t":96,"s1":1.2,"s2":32.7,"s3":43.1,"s4":0,"s5":33.6,"s6":0,"s7":8.4},
{"t":97,"s1":1.2,"s2":33.5,"s3":40.9,"s4":0,"s5":34.2,"s6":0,"s7":7.2},
{"t":98,"s1":1.2,"s2":33.3,"s3":39.5,"s4":0,"s5":23.2,"s6":0,"s7":7.8},
{"t":99,"s1":1.2,"s2":32.8,"s3":39.4,"s4":0,"s5":31.1,"s6":0,"s7":10.5},
{"t":100,"s1":1.2,"s2":32.7,"s3":36.5,"s4":0,"s5":33.6,"s6":0,"s7":8},
{"t":101,"s1":1.2,"s2":32.3,"s3":32.5,"s4":0,"s5":34,"s6":0,"s7":3},
{"t":102,"s1":1.2,"s2":31.8,"s3":31.4,"s4":4.6,"s5":33,"s6":0,"s7":4},
{"t":103,"s1":1.2,"s2":29.8,"s3":27.5,"s4":44.5,"s5":7,"s6":0,"s7":5},
{"t":104,"s1":1.2,"s2":25.3,"s3":26,"s4":107.5,"s5":0,"s6":0,"s7":0},
{"t":105,"s1":1.2,"s2":17.1,"s3":23.8,"s4":162.9,"s5":0,"s6":0,"s7":0},
{"t":106,"s1":1.2,"s2":0.3,"s3":13.8,"s4":206.7,"s5":0,"s6":0,"s7":0},
{"t":107,"s1":1.2,"s2":0,"s3":0.3,"s4":224.5,"s5":0,"s6":0,"s7":0},
{"t":108,"s1":1.2,"s2":0,"s3":0,"s4":224.8,"s5":0,"s6":0,"s7":0},
{"t":109,"s1":1.2,"s2":0,"s3":0,"s4":223.8,"s5":0,"s6":0,"s7":0},
{"t":110,"s1":1.2,"s2":0,"s3":0,"s4":225.8,"s5":0,"s6":0,"s7":0},
{"t":111,"s1":1.2,"s2":0,"s3":0,"s4":231.8,"s5":0,"s6":0,"s7":0},
{"t":112,"s1":1.2,"s2":6.8,"s3":13.3,"s4":190.7,"s5":0,"s6":0,"s7":0},
{"t":113,"s1":1.2,"s2":6.7,"s3":21.6,"s4":145.5,"s5":0,"s6":0,"s7":0},
{"t":114,"s1":1.2,"s2":5.8,"s3":21,"s4":87,"s5":0,"s6":0,"s7":0},
{"t":115,"s1":1.2,"s2":5.2,"s3":20.8,"s4":26.8,"s5":1.8,"s6":0,"s7":0},
{"t":116,"s1":1.2,"s2":4.8,"s3":22,"s4":3,"s5":23.6,"s6":0,"s7":0},
{"t":117,"s1":1.2,"s2":4,"s3":24.3,"s4":0,"s5":23.6,"s6":0,"s7":0},
{"t":118,"s1":1.2,"s2":3.3,"s3":24.2,"s4":0,"s5":21.4,"s6":0,"s7":0},
{"t":119,"s1":1.2,"s2":2.2,"s3":22.3,"s4":0,"s5":20.7,"s6":0,"s7":0},
{"t":120,"s1":1.2,"s2":1.8,"s3":21.5,"s4":0,"s5":35.5,"s6":0,"s7":8},
{"t":121,"s1":1.2,"s2":1.5,"s3":20.1,"s4":0,"s5":17.2,"s6":0,"s7":9.9},
{"t":122,"s1":1.2,"s2":1.1,"s3":19,"s4":0,"s5":18.6,"s6":1.1,"s7":8.4},
{"t":123,"s1":1.2,"s2":0.8,"s3":17.8,"s4":0,"s5":11.9,"s6":18.3,"s7":7.6},
{"t":124,"s1":1.2,"s2":0.7,"s3":16.9,"s4":0,"s5":33,"s6":17.8,"s7":8.8},
{"t":125,"s1":1.2,"s2":0.7,"s3":15.7,"s4":0,"s5":31.2,"s6":14.2,"s7":2},
{"t":126,"s1":1.2,"s2":0.7,"s3":14.9,"s4":0,"s5":20.1,"s6":16.1,"s7":0.1},
{"t":127,"s1":1.2,"s2":0.7,"s3":14.2,"s4":47.9,"s5":0,"s6":16.7,"s7":0},
{"t":128,"s1":1.2,"s2":0.3,"s3":10.9,"s4":103.6,"s5":0,"s6":4,"s7":0},
{"t":129,"s1":1.2,"s2":0,"s3":5.2,"s4":188.6,"s5":0,"s6":0,"s7":0},
{"t":130,"s1":1.2,"s2":0,"s3":0.3,"s4":223.5,"s5":0,"s6":0,"s7":0},
{"t":131,"s1":1.2,"s2":0,"s3":0,"s4":224.8,"s5":0,"s6":0,"s7":0},
{"t":132,"s1":1.2,"s2":0,"s3":0,"s4":223.8,"s5":0,"s6":0,"s7":0},
{"t":133,"s1":1.2,"s2":0,"s3":0,"s4":222.8,"s5":0,"s6":0,"s7":0},
{"t":134,"s1":1.2,"s2":0,"s3":0,"s4":221.8,"s5":0,"s6":0,"s7":0},
{"t":135,"s1":1.2,"s2":0,"s3":0,"s4":234.8,"s5":0,"s6":0,"s7":0},
{"t":136,"s1":1.2,"s2":0.3,"s3":3.4,"s4":208.1,"s5":0,"s6":0,"s7":0},
{"t":137,"s1":1.2,"s2":1.8,"s3":6.4,"s4":162.6,"s5":0,"s6":0,"s7":0},
{"t":138,"s1":1.2,"s2":4.5,"s3":8.9,"s4":95.4,"s5":0,"s6":0,"s7":0},
{"t":139,"s1":1.2,"s2":5.3,"s3":15.5,"s4":28,"s5":6.8,"s6":0,"s7":0},
{"t":140,"s1":1.2,"s2":6.3,"s3":22,"s4":0.5,"s5":29.8,"s6":0,"s7":0},
{"t":141,"s1":1.2,"s2":6.7,"s3":29.1,"s4":0,"s5":22,"s6":0,"s7":0},
{"t":142,"s1":1.2,"s2":7.3,"s3":33.6,"s4":0,"s5":14.7,"s6":0,"s7":0},
{"t":143,"s1":1.2,"s2":7.8,"s3":38,"s4":0,"s5":7.6,"s6":0,"s7":0},
{"t":144,"s1":1.2,"s2":8.2,"s3":40.2,"s4":0,"s5":40.4,"s6":0,"s7":1.8},
{"t":145,"s1":1.2,"s2":7.8,"s3":38,"s4":0,"s5":4.6,"s6":0,"s7":0},
{"t":146,"s1":1.2,"s2":6.8,"s3":36,"s4":0,"s5":1,"s6":0,"s7":4.4},
{"t":147,"s1":1.2,"s2":5.8,"s3":31,"s4":0,"s5":25,"s6":0,"s7":8},
{"t":148,"s1":1.2,"s2":5.2,"s3":30.1,"s4":0,"s5":34.5,"s6":0,"s7":9.2},
{"t":149,"s1":1.2,"s2":4.5,"s3":29.7,"s4":0,"s5":26.1,"s6":0,"s7":0.5},
{"t":150,"s1":1.2,"s2":4.5,"s3":27.8,"s4":0,"s5":24.1,"s6":0,"s7":0},
{"t":151,"s1":1.2,"s2":4.5,"s3":26,"s4":40.3,"s5":8,"s6":0,"s7":0.7},
{"t":152,"s1":1.2,"s2":4.5,"s3":15.6,"s4":103.7,"s5":5,"s6":0,"s7":0},
{"t":153,"s1":1.2,"s2":1.8,"s3":7,"s4":185,"s5":0,"s6":0,"s7":0},
{"t":154,"s1":1.2,"s2":0,"s3":0.7,"s4":220.1,"s5":0,"s6":0,"s7":0},
{"t":155,"s1":1.2,"s2":0,"s3":0,"s4":223.8,"s5":0,"s6":0,"s7":0},
{"t":156,"s1":1.2,"s2":0,"s3":0,"s4":224.8,"s5":0,"s6":0,"s7":0},
{"t":157,"s1":1.2,"s2":0,"s3":0,"s4":223.8,"s5":0,"s6":0,"s7":0},
{"t":158,"s1":1.2,"s2":0,"s3":0,"s4":222.8,"s5":0,"s6":0,"s7":0},
{"t":159,"s1":1.2,"s2":0,"s3":0,"s4":233.8,"s5":0,"s6":0,"s7":0},
{"t":160,"s1":1.2,"s2":1.5,"s3":7.3,"s4":202,"s5":0,"s6":0,"s7":0},
{"t":161,"s1":1.2,"s2":4.8,"s3":10.8,"s4":173.2,"s5":0,"s6":0,"s7":0},
{"t":162,"s1":1.2,"s2":6.7,"s3":12.6,"s4":89.5,"s5":5,"s6":0,"s7":0},
{"t":163,"s1":1.2,"s2":8.8,"s3":17.2,"s4":27.8,"s5":1.1,"s6":0,"s7":0},
{"t":164,"s1":1.2,"s2":11.9,"s3":26,"s4":0,"s5":15.2,"s6":0,"s7":0},
{"t":165,"s1":1.2,"s2":13.3,"s3":39.5,"s4":0,"s5":1,"s6":0,"s7":0},
{"t":166,"s1":1.2,"s2":14.8,"s3":46.2,"s4":0,"s5":0.6,"s6":0,"s7":0},
{"t":167,"s1":1.2,"s2":16.4,"s3":50.4,"s4":0,"s5":0,"s6":0,"s7":0},
{"t":168,"s1":1.2,"s2":20.1,"s3":51.7,"s4":0,"s5":33,"s6":0,"s7":9.6},
{"t":169,"s1":1.2,"s2":19.8,"s3":49.4,"s4":0,"s5":34.6,"s6":0,"s7":9},
{"t":170,"s1":1.2,"s2":18.3,"s3":44.9,"s4":0,"s5":20.1,"s6":0,"s7":9.5},
{"t":171,"s1":1.2,"s2":15.6,"s3":42.4,"s4":0,"s5":34.8,"s6":0,"s7":9},
{"t":172,"s1":1.2,"s2":13.3,"s3":42,"s4":0,"s5":36.2,"s6":0,"s7":8.8},
{"t":173,"s1":1.2,"s2":10.8,"s3":42.8,"s4":0,"s5":34.9,"s6":0,"s7":1.3},
{"t":174,"s1":1.2,"s2":9.3,"s3":40.5,"s4":28,"s5":4,"s6":0,"s7":0},
{"t":175,"s1":1.2,"s2":8.3,"s3":32.5,"s4":83,"s5":5,"s6":0,"s7":0},
{"t":176,"s1":1.2,"s2":6.8,"s3":22.2,"s4":139.8,"s5":0,"s6":0,"s7":0},
{"t":177,"s1":1.2,"s2":5.9,"s3":8.2,"s4":184.7,"s5":0,"s6":0,"s7":0},
{"t":178,"s1":1.2,"s2":0.7,"s3":3,"s4":220.1,"s5":0,"s6":0,"s7":0},
{"t":179,"s1":1.2,"s2":0,"s3":0,"s4":225.8,"s5":0,"s6":0,"s7":0},
{"t":180,"s1":1.2,"s2":0,"s3":0,"s4":224.8,"s5":0,"s6":0,"s7":0},
{"t":181,"s1":1.2,"s2":0,"s3":0,"s4":224.8,"s5":0,"s6":0,"s7":0},
{"t":182,"s1":1.2,"s2":0,"s3":0,"s4":222.8,"s5":0,"s6":0,"s7":0},
{"t":183,"s1":1.2,"s2":0,"s3":0,"s4":233.8,"s5":0,"s6":0,"s7":0},
{"t":184,"s1":1.2,"s2":0.3,"s3":8.6,"s4":201.9,"s5":0,"s6":0,"s7":0},
{"t":185,"s1":1.2,"s2":3.8,"s3":8.8,"s4":166.2,"s5":0,"s6":0,"s7":0},
{"t":186,"s1":1.2,"s2":5.8,"s3":9,"s4":91.6,"s5":2.4,"s6":0,"s7":0},
{"t":187,"s1":1.2,"s2":7.4,"s3":9.7,"s4":33.7,"s5":3.8,"s6":0,"s7":0},
{"t":188,"s1":1.2,"s2":8.3,"s3":19.2,"s4":0,"s5":25.2,"s6":0,"s7":0},
{"t":189,"s1":1.2,"s2":9.3,"s3":22.5,"s4":0,"s5":18.6,"s6":0,"s7":0},
{"t":190,"s1":1.2,"s2":10.4,"s3":24.6,"s4":0,"s5":13.2,"s6":0,"s7":0},
{"t":191,"s1":1.2,"s2":12.8,"s3":26.5,"s4":0,"s5":7,"s6":0,"s7":0},
{"t":192,"s1":1.2,"s2":14.1,"s3":26.7,"s4":0,"s5":33,"s6":0,"s7":8.6},
{"t":193,"s1":1.2,"s2":13.8,"s3":26,"s4":0,"s5":1,"s6":0,"s7":6.7},
{"t":194,"s1":1.2,"s2":13.4,"s3":24.5,"s4":0,"s5":2.9,"s6":0,"s7":3.7},
{"t":195,"s1":1.2,"s2":13.1,"s3":23.2,"s4":0,"s5":24,"s6":0,"s7":5},
{"t":196,"s1":1.2,"s2":12.8,"s3":22.5,"s4":0,"s5":32.5,"s6":0,"s7":9.4},
{"t":197,"s1":1.2,"s2":12.6,"s3":20.9,"s4":0,"s5":25.3,"s6":0,"s7":6.5},
{"t":198,"s1":1.2,"s2":12.6,"s3":19.6,"s4":10.2,"s5":3.9,"s6":0,"s7":0.5},
{"t":199,"s1":1.2,"s2":12.6,"s3":16.7,"s4":39.5,"s5":1,"s6":0,"s7":0},
{"t":200,"s1":1.2,"s2":11.6,"s3":9.7,"s4":73.5,"s5":2,"s6":0,"s7":0},
{"t":201,"s1":1.2,"s2":9.8,"s3":5.8,"s4":123.2,"s5":0,"s6":0,"s7":0},
{"t":202,"s1":1.2,"s2":4.8,"s3":2,"s4":189,"s5":0,"s6":0,"s7":0},
{"t":203,"s1":1.2,"s2":0,"s3":0,"s4":216.8,"s5":0,"s6":0,"s7":0},
{"t":204,"s1":1.2,"s2":0,"s3":0,"s4":217.8,"s5":0,"s6":0,"s7":0},
{"t":205,"s1":1.2,"s2":0,"s3":0,"s4":220.8,"s5":0,"s6":0,"s7":0},
{"t":206,"s1":1.2,"s2":0,"s3":0,"s4":226.8,"s5":0,"s6":0,"s7":0},
{"t":207,"s1":1.2,"s2":0.3,"s3":0,"s4":219.5,"s5":0,"s6":0,"s7":0},
{"t":208,"s1":1.2,"s2":6.7,"s3":19.3,"s4":174.8,"s5":0,"s6":0,"s7":0},
{"t":209,"s1":1.2,"s2":7,"s3":21.3,"s4":122.5,"s5":0,"s6":0,"s7":0},
{"t":210,"s1":1.2,"s2":7.2,"s3":26.6,"s4":62.6,"s5":2.4,"s6":0,"s7":0},
{"t":211,"s1":1.2,"s2":7.4,"s3":28.9,"s4":27.5,"s5":0,"s6":0,"s7":0},
{"t":212,"s1":1.2,"s2":7.4,"s3":31.3,"s4":3.7,"s5":6.3,"s6":0,"s7":0},
{"t":213,"s1":1.2,"s2":7.4,"s3":29.4,"s4":0,"s5":11.1,"s6":0,"s7":0},
{"t":214,"s1":1.2,"s2":7.2,"s3":26.9,"s4":0,"s5":12.6,"s6":0,"s7":0},
{"t":215,"s1":1.2,"s2":6.8,"s3":25.2,"s4":0,"s5":12.8,"s6":0,"s7":0},
{"t":216,"s1":1.2,"s2":6.1,"s3":20.7,"s4":0,"s5":35,"s6":0,"s7":8.7},
{"t":217,"s1":1.2,"s2":5.9,"s3":20.4,"s4":0,"s5":7.9,"s6":0,"s7":8.1},
{"t":218,"s1":1.2,"s2":5.9,"s3":19.4,"s4":0,"s5":35,"s6":0,"s7":0.5},
{"t":219,"s1":1.2,"s2":5.9,"s3":17.9,"s4":0,"s5":15.6,"s6":0,"s7":0.6},
{"t":220,"s1":1.2,"s2":5.9,"s3":17.4,"s4":0,"s5":24.2,"s6":0,"s7":0},
{"t":221,"s1":1.2,"s2":5.9,"s3":15.7,"s4":0,"s5":43.7,"s6":0,"s7":0},
{"t":222,"s1":1.2,"s2":5.8,"s3":13,"s4":2,"s5":37.2,"s6":0,"s7":8.1},
{"t":223,"s1":1.2,"s2":5.6,"s3":11.5,"s4":31.3,"s5":26.6,"s6":0,"s7":0},
{"t":224,"s1":1.2,"s2":5.4,"s3":8.7,"s4":61.7,"s5":0,"s6":0,"s7":0},
{"t":225,"s1":1.2,"s2":5.3,"s3":8.5,"s4":95,"s5":0,"s6":0,"s7":0},
{"t":226,"s1":1.2,"s2":5.2,"s3":8.2,"s4":147.4,"s5":0,"s6":0,"s7":0},
{"t":227,"s1":1.2,"s2":5.2,"s3":8.9,"s4":176.7,"s5":0,"s6":0,"s7":0},
{"t":228,"s1":1.2,"s2":5.4,"s3":10.9,"s4":193.5,"s5":0,"s6":0,"s7":0},
{"t":229,"s1":1.2,"s2":5.8,"s3":12.8,"s4":197.2,"s5":0,"s6":0,"s7":0},
{"t":230,"s1":1.2,"s2":6.4,"s3":17.4,"s4":186,"s5":0,"s6":0,"s7":0},
{"t":231,"s1":1.2,"s2":6.8,"s3":19.5,"s4":162.5,"s5":0,"s6":0,"s7":0},
{"t":232,"s1":1.2,"s2":7.4,"s3":20.9,"s4":130.5,"s5":0,"s6":0,"s7":0},
{"t":233,"s1":1.2,"s2":8.3,"s3":20.5,"s4":85,"s5":0,"s6":0,"s7":0},
{"t":234,"s1":1.2,"s2":8.9,"s3":20.1,"s4":45.8,"s5":2,"s6":0,"s7":0},
{"t":235,"s1":1.2,"s2":8.6,"s3":18.2,"s4":19.8,"s5":0,"s6":0,"s7":0},
{"t":236,"s1":1.2,"s2":8.2,"s3":15.6,"s4":0,"s5":27.4,"s6":0,"s7":0},
{"t":237,"s1":1.2,"s2":7.6,"s3":14.7,"s4":0,"s5":22.2,"s6":0,"s7":0},
{"t":238,"s1":1.2,"s2":7.1,"s3":14,"s4":0,"s5":32,"s6":0,"s7":0},
{"t":239,"s1":1.2,"s2":6.7,"s3":13.4,"s4":0,"s5":22.2,"s6":0,"s7":0}
]
},
"vconcat":[
{
"title":{"text":"demand","offset":8.5},
"width":1545.9,"height":557.8,
"data":{"name":"dem"},
"transform":[
{"fold":["d1","d2","d3","d4","d5","d6"]},
{"lookup":"key","from":{"data":{"values":[{"k":"d1","n":"today's demand"},{"k":"d2","n":"battery charger"},{"k":"d3","n":"bev charger"},{"k":"d4","n":"heat pumps"},{"k":"d5","n":"hydrogen electrolyser"},{"k":"d6","n":"pumped hydro charger"}]},"key":"k","fields":["n"]}}
],
"mark":{"type":"area","interpolate":"linear","opacity":1},
"encoding":{
"x":{"field":"t","type":"quantitative","scale":{"domain":[0,239],"nice":false,"zero":false},"axis":{"title":null,"values":[0,24,48,72,96,120,144,168,192,216,239],"labelExpr":"datum.value == 0 ? ['07','Aug','2026'] : datum.value == 239 ? '' : (datum.value < 72 ? '0' : '') + (7 + datum.value / 24)"}},
"y":{"field":"value","type":"quantitative","stack":"zero","scale":{"domain":[0,249],"nice":false},"axis":{"title":"power [GW]","values":[0,50,100,150,200]}},
"color":{"field":"n","type":"nominal","scale":{"domain":["pumped hydro charger","hydrogen electrolyser","heat pumps","bev charger","battery charger","today's demand"],"range":["#dbf5a8","#00ffff","#90ee90","#40e0d0","#999999","#000000"]},"legend":{"title":null,"legendX":11,"legendY":10.5,"rowPadding":12.1,"symbolSize":484,"labelOffset":41}},
"order":{"field":"key","type":"ordinal","sort":"ascending"}
}
},
{
"title":{"text":"supply","offset":8.5},
"width":1545.9,"height":557.8,
"data":{"name":"sup"},
"transform":[
{"fold":["s1","s2","s3","s4","s5","s6","s7"]},
{"lookup":"key","from":{"data":{"values":[{"k":"s1","n":"hydroelectricity"},{"k":"s2","n":"offshore wind"},{"k":"s3","n":"onshore wind"},{"k":"s4","n":"solar PV"},{"k":"s5","n":"battery discharger"},{"k":"s6","n":"hydrogen turbine"},{"k":"s7","n":"pumped hydro discharger"}]},"key":"k","fields":["n"]}}
],
"mark":{"type":"area","interpolate":"linear","opacity":1},
"encoding":{
"x":{"field":"t","type":"quantitative","scale":{"domain":[0,239],"nice":false,"zero":false},"axis":{"title":null,"values":[0,24,48,72,96,120,144,168,192,216,239],"labelExpr":"datum.value == 0 ? ['07','Aug','2026'] : datum.value == 239 ? '' : (datum.value < 72 ? '0' : '') + (7 + datum.value / 24)"}},
"y":{"field":"value","type":"quantitative","stack":"zero","scale":{"domain":[0,249],"nice":false},"axis":{"title":"power [GW]","values":[0,50,100,150,200]}},
"color":{"field":"n","type":"nominal","scale":{"domain":["pumped hydro discharger","hydrogen turbine","battery discharger","solar PV","onshore wind","offshore wind","hydroelectricity"],"range":["#dbf5a8","#ff0000","#999999","#ffff00","#3a5f82","#5c82a5","#008000"]},"legend":{"title":null,"legendX":11.7,"legendY":10.8,"rowPadding":12.1,"symbolSize":484,"labelOffset":41}},
"order":{"field":"key","type":"ordinal","sort":"ascending"}
}
}
],
"resolve":{"scale":{"color":"independent"},"legend":{"color":"independent"}}
}
